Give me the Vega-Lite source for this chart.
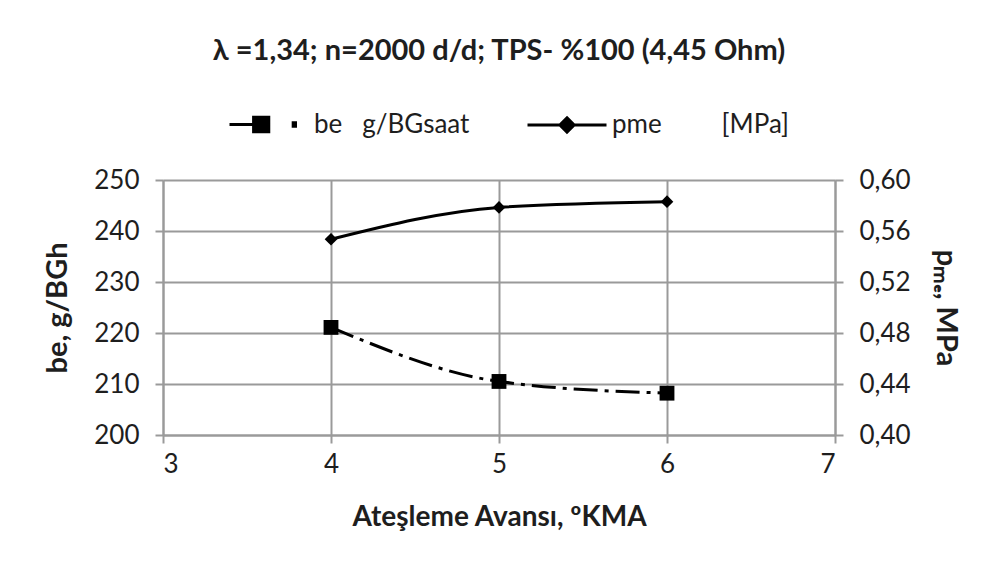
{
  "$schema": "https://vega.github.io/schema/vega-lite/v6.json",
  "width": 672,
  "height": 255,
  "autosize": {"type": "none"},
  "padding": {"left": 163, "top": 180, "right": 163, "bottom": 141},
  "background": "white",
  "config": {"font": "Lato", "view": {"stroke": null}, "legend": {"padding": 0}},
  "title": {"text": "λ =1,34; n=2000 d/d; TPS- %100 (4,45 Ohm)", "fontSize": 29, "fontWeight": "bold", "font": "Lato", "color": "#1e1e1e", "frame": "group", "offset": 18},
  "data": {"values": [
    {"ka": 4, "be": 221.1, "pme": 0.5535},
    {"ka": 5, "be": 210.5, "pme": 0.5785},
    {"ka": 6, "be": 208.2, "pme": 0.583}
  ]},
  "encoding": {
    "x": {"field": "ka", "type": "quantitative", "scale": {"domain": [3, 7], "nice": false, "zero": false},
      "axis": {"values": [3, 4, 5, 6, 7], "grid": true, "gridColor": "#9a9a9a", "gridWidth": 2, "domainColor": "#9a9a9a", "domainWidth": 2, "tickColor": "#9a9a9a", "tickWidth": 2, "tickSize": 8, "labelFontSize": 26, "labelColor": "#1e1e1e", "labelPadding": 8, "title": "Ateşleme Avansı, ºKMA", "titleFontSize": 28, "titleFontWeight": "bold", "titleColor": "#1e1e1e", "titlePadding": 26}}
  },
  "layer": [
    {"layer": [
      {"mark": {"type": "line", "interpolate": "monotone", "strokeDash": [24, 7, 4, 7], "strokeWidth": 3, "color": "black"},
       "encoding": {"y": {"field": "be", "type": "quantitative", "scale": {"domain": [200, 250], "nice": false, "zero": false},
         "axis": {"orient": "left", "values": [200, 210, 220, 230, 240, 250], "grid": true, "gridColor": "#9a9a9a", "gridWidth": 2, "domainColor": "#9a9a9a", "domainWidth": 2, "tickColor": "#9a9a9a", "tickWidth": 2, "tickSize": 8, "labelFontSize": 26, "labelColor": "#1e1e1e", "labelPadding": 16, "title": "be, g/BGh", "titleFontSize": 29, "titleFontWeight": "bold", "titleColor": "#1e1e1e", "titlePadding": 21}}}},
      {"mark": {"type": "point", "filled": true, "size": 220, "shape": "square", "opacity": 1},
       "encoding": {"y": {"field": "be", "type": "quantitative"},
         "fill": {"datum": "be", "scale": {"domain": ["be"], "range": ["black"]},
           "legend": {"orient": "none", "legendX": 65, "legendY": -90, "direction": "horizontal", "title": null,
             "symbolType": "M-1,0H-0.27M-0.27,-0.22H0.19V0.22H-0.27ZM0.93,-0.05H1V0.05H0.93Z",
             "symbolSize": 4356, "symbolFillColor": "black", "symbolStrokeColor": "black", "symbolStrokeWidth": 3,
             "labelFontSize": 26, "labelColor": "#1e1e1e", "labelOffset": 17, "labelLimit": 500,
             "labelExpr": "'be\u00a0\u00a0\u00a0g/BGsaat'",
             "encode": {"symbols": {"update": {"fill": {"value": "black"}, "stroke": {"value": "black"}, "strokeWidth": {"value": 3}}}}}}}}
    ]},
    {"layer": [
      {"mark": {"type": "line", "interpolate": "monotone", "strokeWidth": 3, "color": "black"},
       "encoding": {"y": {"field": "pme", "type": "quantitative", "scale": {"domain": [0.4, 0.6], "nice": false, "zero": false},
         "axis": {"orient": "right", "values": [0.4, 0.44, 0.48, 0.52, 0.56, 0.6], "grid": false, "domainColor": "#9a9a9a", "domainWidth": 2, "tickColor": "#9a9a9a", "tickWidth": 2, "tickSize": 8, "labelFontSize": 26, "labelColor": "#1e1e1e", "labelPadding": 16,
           "labelExpr": "replace(format(datum.value, '.2f'), '.', ',')",
           "title": "pₘₑ, MPa", "titleFontSize": 29, "titleFontWeight": "bold", "titleColor": "#1e1e1e", "titlePadding": 20}}}},
      {"mark": {"type": "point", "filled": true, "size": 160, "shape": "diamond", "color": "black", "opacity": 1},
       "encoding": {"y": {"field": "pme", "type": "quantitative"},
         "color": {"datum": "pme", "scale": {"domain": ["pme"], "range": ["black"]},
           "legend": {"orient": "none", "legendX": 363, "legendY": -96, "direction": "horizontal", "title": null,
             "symbolType": "M-1,0H1M0,-0.18L0.18,0L0,0.18L-0.18,0Z",
             "symbolSize": 6241, "symbolFillColor": "black", "symbolStrokeColor": "black", "symbolStrokeWidth": 3,
             "labelFontSize": 26, "labelColor": "#1e1e1e", "labelOffset": 4, "labelLimit": 500,
             "labelExpr": "'pme\u00a0\u00a0\u00a0\u00a0\u00a0\u00a0\u00a0\u00a0\u00a0[MPa]'",
             "encode": {"symbols": {"update": {"fill": {"value": "black"}, "stroke": {"value": "black"}, "strokeWidth": {"value": 3}}}}}}}}
    ]}
  ],
  "resolve": {"scale": {"y": "independent"}}
}
